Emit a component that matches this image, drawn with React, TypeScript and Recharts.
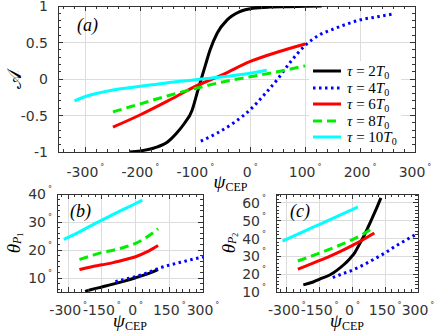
import React from 'react';
import { LineChart, Line, XAxis, YAxis, Legend, ReferenceArea } from 'recharts';

type Pt = { x: number; y: number };

const SANS = '"DejaVu Sans", sans-serif';
const SERIF = '"Liberation Serif", serif';
const TXT = '#333';
const FRAME = '#333';
const GRID = '#dcdcdc';

const TAUS = ['2', '4', '6', '8', '10'];
const COLORS = ['#000000', '#0000ff', '#ff0000', '#00ee00', '#00ffff'];
const DASHES = ['', '2.5 3.5', '', '9 5', ''];

// (a) asymmetry vs CEP
const a2x = [-220, -200, -175, -150, -135, -120, -106, -97, -90, -82, -73, -60, -42, -20, 5, 35, 70, 100, 130];
const a2y = [-1, -0.985, -0.945, -0.86, -0.75, -0.61, -0.43, -0.2, -0.02, 0.18, 0.4, 0.63, 0.81, 0.92, 0.97, 0.985, 0.99, 0.995, 1];
const a4x = [-90, -60, -30, 0, 25, 50, 75, 100, 125, 150, 175, 200, 230, 260];
const a4y = [-0.85, -0.74, -0.6, -0.42, -0.22, 0, 0.25, 0.46, 0.6, 0.68, 0.75, 0.81, 0.85, 0.89];
const a6x = [-250, -200, -150, -100, -50, 0, 50, 100];
const a6y = [-0.66, -0.49, -0.3, -0.1, 0.06, 0.24, 0.37, 0.48];
const a8x = [-250, -200, -150, -100, -50, 0, 50, 100];
const a8y = [-0.45, -0.34, -0.23, -0.13, -0.04, 0.03, 0.1, 0.18];
const a10x = [-320, -300, -250, -200, -150, -100, -50, 0, 30];
const a10y = [-0.3, -0.24, -0.15, -0.1, -0.05, -0.01, 0.03, 0.08, 0.12];

// (b) theta_P1
const b2x = [-225, -200, -150, -100, -50, 0, 50, 100];
const b2y = [5.2, 5.8, 6.8, 7.8, 8.9, 10.1, 11.4, 13.0];
const b4x = [-90, -50, 0, 50, 100, 150, 200, 250, 300];
const b4y = [8.7, 9.5, 10.5, 11.8, 13.4, 14.6, 15.6, 16.6, 17.5];
const b6x = [-250, -200, -150, -100, -50, 0, 50, 100];
const b6y = [13, 13.9, 14.7, 15.5, 16.5, 17.6, 19.3, 21.6];
const b8x = [-250, -200, -150, -100, -50, 0, 50, 100];
const b8y = [16.6, 17.9, 19.1, 19.9, 21, 22.4, 24.6, 27.6];
const b10x = [-320, -250, -200, -150, -100, -50, 0, 30];
const b10y = [23.8, 26.5, 28.6, 30.7, 32.7, 34.7, 36.6, 37.8];

// (c) theta_P2
const c2x = [-225, -180, -150, -100, -70, -40, -10, 10, 35, 55, 80, 105, 130];
const c2y = [14, 15.6, 17.2, 19.8, 22.3, 25.3, 29, 32, 37.5, 42, 48.7, 55.5, 62.8];
const c4x = [-90, -50, 0, 50, 100, 150, 200, 250, 300];
const c4y = [18.1, 20, 22.3, 25.2, 28.5, 32, 36, 39.5, 43];
const c6x = [-250, -200, -150, -100, -50, 0, 50, 100];
const c6y = [22.8, 25.2, 27.7, 30.3, 33.1, 36.2, 39.5, 43.1];
const c8x = [-250, -200, -150, -100, -50, 0, 50, 100];
const c8y = [27.4, 29.6, 31.9, 34.2, 36.7, 39.4, 42.6, 46.6];
const c10x = [-320, -250, -200, -150, -100, -50, 0, 25];
const c10y = [38.6, 42.5, 45.3, 48.0, 50.8, 53.5, 56.3, 57.7];

const aXTicks = [-300, -200, -100, 0, 100, 200, 300];
const smallXTicks = [-300, -150, 0, 150, 300];
const aYTicks = [-1, -0.5, 0, 0.5, 1];
const bYTicks = [10, 20, 30, 40];
const cYTicks = [10, 20, 30, 40, 50, 60];

const zip = (xs: number[], ys: number[]): Pt[] => xs.map((x, i) => ({ x, y: ys[i] }));
// minor tick positions (major ones are part of them)
const steps = (from: number, to: number, step: number) => {
  const out: number[] = [];
  for (let v = from; v <= to + 1e-9; v += step) out.push(Math.round(v * 1000) / 1000);
  return out;
};

const seriesA = [zip(a2x, a2y), zip(a4x, a4y), zip(a6x, a6y), zip(a8x, a8y), zip(a10x, a10y)];
const seriesB = [zip(b2x, b2y), zip(b4x, b4y), zip(b6x, b6y), zip(b8x, b8y), zip(b10x, b10y)];
const seriesC = [zip(c2x, c2y), zip(c4x, c4y), zip(c6x, c6y), zip(c8x, c8y), zip(c10x, c10y)];

// keep 1px strokes on pixel centres
const snap = (v: number) => Math.round(v - 0.5) + 0.5;

const Deg = () => <tspan dx={2} dy={-7} fontSize={8}>°</tspan>;

// grid lines: left edge (vertical) or top edge (horizontal) of a reference area
const vGrid = (r: any) => (
  <path d={`M${snap(r.x)},${r.y}V${r.y + r.height}`} stroke={GRID} strokeWidth={1} fill="none" />
);
const hGrid = (r: any) => (
  <path d={`M${r.x},${snap(r.y)}H${r.x + r.width}`} stroke={GRID} strokeWidth={1} fill="none" />
);

const frameShape = (r: any) => (
  <rect x={snap(r.x)} y={snap(r.y)} width={Math.round(r.width)} height={Math.round(r.height)}
    fill="none" stroke={FRAME} strokeWidth={1} />
);

// x tick: inward tick marks at bottom and top, label only on major values
const xTick = (majors: number[], dy: number, plotH: number) => (p: any) => {
  const v = p.payload.value;
  const major = majors.includes(v);
  const len = major ? 5 : 3;
  const x = snap(p.x);
  const y = Math.round(p.y);
  return (
    <g>
      <path d={`M${x},${y}V${y - len}M${x},${y - plotH}V${y - plotH + len}`} stroke={FRAME} strokeWidth={1} fill="none" />
      {major && (
        <text x={p.x} y={p.y + dy} textAnchor="middle" fill={TXT} fontFamily={SANS} fontSize={14}>
          {v}
          <Deg />
        </text>
      )}
    </g>
  );
};

const yTick = (majors: number[], gap: number, deg: boolean, plotW: number) => (p: any) => {
  const v = p.payload.value;
  const major = majors.includes(v);
  const len = major ? 5 : 3;
  const x = Math.round(p.x);
  const y = snap(p.y);
  return (
    <g>
      <path d={`M${x},${y}H${x + len}M${x + plotW},${y}H${x + plotW - len}`} stroke={FRAME} strokeWidth={1} fill="none" />
      {major && (
        <text x={p.x - gap} y={p.y + 5} textAnchor="end" fill={TXT} fontFamily={SANS} fontSize={14}>
          {v}
          {deg && <Deg />}
        </text>
      )}
    </g>
  );
};

const psiLabel = (dx: number, dy: number) => (p: any) => {
  const vb = p.viewBox;
  return (
    <text x={vb.x + vb.width / 2 + dx} y={vb.y + dy} textAnchor="middle" fontFamily={SERIF} fill="#000">
      <tspan fontSize={19} fontStyle="italic">ψ</tspan>
      <tspan fontSize={12} dy={3}>CEP</tspan>
    </text>
  );
};

const yLabel = (cx: number, content: React.ReactNode) => (p: any) => {
  const vb = p.viewBox;
  const cy = vb.y + vb.height / 2;
  return (
    <text x={cx} y={cy} transform={`rotate(-90 ${cx} ${cy})`} textAnchor="middle" dominantBaseline="central"
      fontFamily={SERIF} fill="#000">
      {content}
    </text>
  );
};

const thetaLabel = (sub: string) => (
  <>
    <tspan fontSize={19} fontStyle="italic">θ</tspan>
    <tspan fontSize={12} fontStyle="italic" dy={4}>P</tspan>
    <tspan fontSize={8} dy={3}>{sub}</tspan>
  </>
);

const tagLabel = (text: string, dx: number, dy: number) => (p: any) => (
  <text x={p.viewBox.x + dx} y={p.viewBox.y + dy} fontFamily={SERIF} fontStyle="italic" fontSize={18} fill="#000">
    {text}
  </text>
);

const LegendBox = () => (
  <div style={{ background: '#fff', padding: '2px 4px 2px 3px', fontFamily: SERIF, fontSize: 15, color: '#000' }}>
    {TAUS.map((t, i) => (
      <div key={t} style={{ display: 'flex', alignItems: 'center', height: 16.5, lineHeight: '16px' }}>
        <svg width={30} height={8} style={{ display: 'block' }}>
          <line x1={1} y1={4} x2={29} y2={4} stroke={COLORS[i]} strokeWidth={3}
            strokeDasharray={DASHES[i] || undefined} />
        </svg>
        <span style={{ marginLeft: 5, whiteSpace: 'nowrap' }}>
          <i>τ</i> = {t}<i>T</i>
          <span style={{ fontSize: 10, verticalAlign: '-0.3em', lineHeight: 0 }}>0</span>
        </span>
      </div>
    ))}
  </div>
);

type PanelProps = {
  left: number; top: number; width: number; height: number;
  margin: { top: number; right: number; left: number; bottom: number };
  yWidth: number; xHeight: number;
  xDom: [number, number]; yDom: [number, number];
  xTicks: number[]; yTicks: number[]; xMinor: number[]; yMinor: number[];
  series: Pt[][];
  xTickDy: number; yGap: number; yDeg: boolean;
  psiDx: number; psiDy: number;
  yLabelX: number; yLabelContent: React.ReactNode;
  tag: string; tagDx: number; tagDy: number;
  legend?: boolean;
};

function Panel(p: PanelProps) {
  const plotW = p.width - p.margin.left - p.margin.right - p.yWidth;
  const plotH = p.height - p.margin.top - p.margin.bottom - p.xHeight;
  const inner = (v: number, dom: [number, number]) => v > dom[0] && v < dom[1];
  return (
    <div style={{ position: 'absolute', left: p.left, top: p.top }}>
      <LineChart width={p.width} height={p.height} margin={p.margin}>
        <XAxis xAxisId="b" dataKey="x" type="number" domain={p.xDom} allowDataOverflow ticks={p.xMinor} interval={0}
          height={p.xHeight} tickLine={false} tickSize={0} tickMargin={0} axisLine={false}
          tick={xTick(p.xTicks, p.xTickDy, plotH)}
          label={{ content: psiLabel(p.psiDx, p.psiDy) }} />
        <YAxis yAxisId="l" type="number" domain={p.yDom} allowDataOverflow ticks={p.yMinor} interval={0}
          width={p.yWidth} tickLine={false} tickSize={0} tickMargin={0} axisLine={false}
          tick={yTick(p.yTicks, p.yGap, p.yDeg, plotW)}
          label={{ content: yLabel(p.yLabelX, p.yLabelContent) }} />
        {p.xTicks.filter((v) => inner(v, p.xDom)).map((v) => (
          <ReferenceArea key={`gx${v}`} xAxisId="b" yAxisId="l" x1={v} x2={p.xDom[1]} y1={p.yDom[0]} y2={p.yDom[1]}
            fill="none" fillOpacity={0} stroke="none" shape={vGrid} />
        ))}
        {p.yTicks.filter((v) => inner(v, p.yDom)).map((v) => (
          <ReferenceArea key={`gy${v}`} xAxisId="b" yAxisId="l" x1={p.xDom[0]} x2={p.xDom[1]} y1={p.yDom[0]} y2={v}
            fill="none" fillOpacity={0} stroke="none" shape={hGrid} />
        ))}
        {p.series.map((d, i) => (
          <Line key={TAUS[i]} xAxisId="b" yAxisId="l" data={d} dataKey="y" name={`τ = ${TAUS[i]}T0`}
            type="monotone" stroke={COLORS[i]} strokeWidth={3} strokeDasharray={DASHES[i] || undefined}
            dot={false} activeDot={false} isAnimationActive={false} />
        ))}
        <ReferenceArea xAxisId="b" yAxisId="l" x1={p.xDom[0]} x2={p.xDom[1]} y1={p.yDom[0]} y2={p.yDom[1]}
          fill="none" fillOpacity={0} stroke={FRAME} strokeWidth={1} ifOverflow="visible" shape={frameShape}
          label={{ content: tagLabel(p.tag, p.tagDx, p.tagDy) }} />
        {p.legend && (
          <Legend layout="vertical" align="center" verticalAlign="middle" content={() => <LegendBox />}
            wrapperStyle={{ left: 309, top: 61, width: 'auto', height: 'auto' }} />
        )}
      </LineChart>
    </div>
  );
}

export default function App() {
  return (
    <div style={{ position: 'absolute', left: 0, top: 0, width: 436, height: 335, background: '#fff', overflow: 'hidden' }}>
      <Panel left={0} top={180} width={240} height={155} margin={{ top: 14, right: 37, left: 0, bottom: 0 }}
        yWidth={57} xHeight={43} xDom={[-350, 300]} yDom={[5, 40]}
        xTicks={smallXTicks} yTicks={bYTicks} xMinor={steps(-330, 300, 30)} yMinor={steps(6, 40, 2)}
        series={seriesB} xTickDy={23} yGap={5} yDeg
        psiDx={0} psiDy={35} yLabelX={13} yLabelContent={thetaLabel('1')}
        tag="(b)" tagDx={13} tagDy={23} />
      <Panel left={215} top={180} width={221} height={155} margin={{ top: 14, right: 18, left: 0, bottom: 0 }}
        yWidth={61} xHeight={43} xDom={[-350, 300]} yDom={[10, 65]}
        xTicks={smallXTicks} yTicks={cYTicks} xMinor={steps(-330, 300, 30)} yMinor={steps(10, 64, 2)}
        series={seriesC} xTickDy={23} yGap={10} yDeg
        psiDx={0} psiDy={35} yLabelX={13} yLabelContent={thetaLabel('2')}
        tag="(c)" tagDx={14} tagDy={23} />
      <Panel left={0} top={0} width={436} height={200} margin={{ top: 6, right: 21, left: 0, bottom: 10 }}
        yWidth={58} xHeight={38} xDom={[-350, 300]} yDom={[-1, 1]}
        xTicks={aXTicks} yTicks={aYTicks} xMinor={steps(-340, 300, 20)} yMinor={steps(-1, 1, 0.1)}
        series={seriesA} xTickDy={25} yGap={10} yDeg={false}
        psiDx={-6} psiDy={36} yLabelX={14} yLabelContent={<tspan fontSize={20}>𝒜</tspan>}
        tag="(a)" tagDx={19} tagDy={25} legend />
    </div>
  );
}
